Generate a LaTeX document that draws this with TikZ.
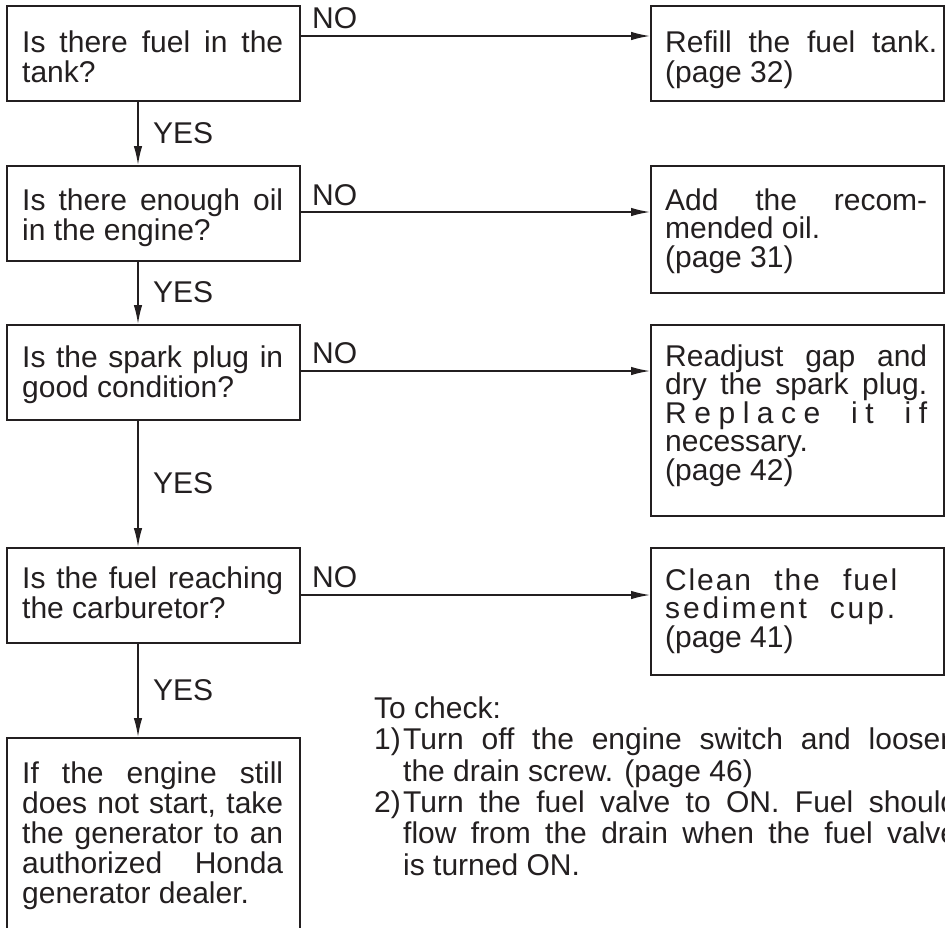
\documentclass[tikz,border=0pt]{standalone}
\usepackage{fontspec}
\setmainfont{Liberation Sans}
\usetikzlibrary{arrows.meta}
\definecolor{ink}{HTML}{231F20}
\newcommand{\bfnt}{\fontsize{30}{30}\selectfont}
\newcommand{\rfnt}{\fontsize{30}{28.5}\selectfont}
\newcommand{\pfnt}{\fontsize{30}{31.3}\selectfont}
\tikzset{
  box/.style={draw=ink, line width=1.9pt, anchor=north west, inner sep=0pt, minimum width=293pt},
  txt/.style={inner sep=0pt, anchor=base west, align=left, text=ink},
  lbl/.style={inner sep=0pt, anchor=base west, text=ink, font=\bfnt},
  arr/.style={draw=ink, line width=1.5pt, -{Latex[length=19pt,width=8.5pt]}},
}
\begin{document}
\begin{tikzpicture}[x=1pt,y=-1pt]
\useasboundingbox (0,0) rectangle (945,927);
\fill[white] (0,0) rectangle (945,927);
% left column boxes
\node[box, minimum height=95pt]  (L1) at (6,5) {};
\node[box, minimum height=95pt]  (L2) at (6,165) {};
\node[box, minimum height=95pt]  (L3) at (6,324) {};
\node[box, minimum height=95pt]  (L4) at (6,547) {};
\node[box, minimum height=210pt] (L5) at (6,737) {};
% right column boxes
\node[box, minimum height=95pt]  (R1) at (650,5) {};
\node[box, minimum height=127pt] (R2) at (650,165) {};
\node[box, minimum height=191pt] (R3) at (650,324) {};
\node[box, minimum height=127pt] (R4) at (650,547) {};
% texts of the left boxes (placed by the baseline of their last line)
\node[txt, font=\bfnt] (L1t) at (22,82) {\makebox[261pt][s]{Is there fuel in the}\\tank?};
\node[txt, font=\bfnt] (L2t) at (22,240) {\makebox[261pt][s]{Is there enough oil}\\in the engine?};
\node[txt, font=\bfnt] (L3t) at (22,397) {\makebox[261pt][s]{Is the spark plug in}\\good condition?};
\node[txt, font=\bfnt] (L4t) at (22,618) {\makebox[261pt][s]{Is the fuel reaching}\\the carburetor?};
\node[txt, font=\bfnt] (L5t) at (22,903) {\makebox[261pt][s]{If the engine still}\\
  \makebox[261pt][s]{does not start, take}\\
  \makebox[261pt][s]{the generator to an}\\
  \makebox[261pt][s]{authorized Honda}\\
  generator dealer.};
% texts of the right boxes
\node[txt, font=\bfnt] (R1t) at (665,82) {\makebox[272pt][s]{Refill the fuel tank.}\\(page 32)};
\node[txt, font=\rfnt] (R2t) at (665,267) {\makebox[262pt][s]{Add the recom-}\\mended oil.\\(page 31)};
\node[txt, font=\rfnt] (R3t) at (665,480) {\makebox[262pt][s]{Readjust gap and}\\
  \makebox[262pt][s]{dry the spark plug.}\\
  \makebox[262pt][s]{R\hfill e\hfill p\hfill l\hfill a\hfill c\hfill e\ \hfill\hfill\hfill i\hfill t\ \hfill\hfill\hfill i\hfill f}\\
  necessary.\\(page 42)};
\node[txt, font=\rfnt] (R4t) at (665,647) {\makebox[232pt][s]{C\hfill l\hfill e\hfill a\hfill n\ \hfill\hfill\hfill\hfill\hfill\hfill\hfill\hfill t\hfill h\hfill e\ \hfill\hfill\hfill\hfill\hfill\hfill\hfill\hfill f\hfill u\hfill e\hfill l}\\
  \makebox[230pt][s]{s\hfill e\hfill d\hfill i\hfill m\hfill e\hfill n\hfill t\ \hfill\hfill\hfill\hfill\hfill c\hfill u\hfill p\hfill .}\\
  (page 41)};
% note
\node[txt, font=\pfnt] (note) at (374,875) {To check:\\
  \makebox[29pt][l]{1)}\makebox[554pt][s]{Turn off the engine switch and loosen}\\
  \hspace*{29pt}the drain screw. (page 46)\\
  \makebox[29pt][l]{2)}\makebox[554pt][s]{Turn the fuel valve to ON. Fuel should}\\
  \hspace*{29pt}\makebox[554pt][s]{flow from the drain when the fuel valve}\\
  \hspace*{29pt}is turned ON.};
% connector helpers
\coordinate (vx) at (138,0);
\coordinate (h1) at (0,36);
\coordinate (h2) at (0,212);
\coordinate (h3) at (0,371);
\coordinate (h4) at (0,595);
% YES connectors
\draw[arr] (L1.south -| vx) -- (L2.north -| vx);
\draw[arr] (L2.south -| vx) -- (L3.north -| vx);
\draw[arr] (L3.south -| vx) -- (L4.north -| vx);
\draw[arr] (L4.south -| vx) -- (L5.north -| vx);
% NO connectors
\draw[arr] (L1.east |- h1) -- (R1.west |- h1);
\draw[arr] (L2.east |- h2) -- (R2.west |- h2);
\draw[arr] (L3.east |- h3) -- (R3.west |- h3);
\draw[arr] (L4.east |- h4) -- (R4.west |- h4);
% labels
\node[lbl] (y1) at (153,143) {YES};
\node[lbl] (y2) at (153,302) {YES};
\node[lbl] (y3) at (153,493) {YES};
\node[lbl] (y4) at (153,700) {YES};
\node[lbl] (n1) at (312,28) {NO};
\node[lbl] (n2) at (312,205) {NO};
\node[lbl] (n3) at (312,363) {NO};
\node[lbl] (n4) at (312,587) {NO};
\end{tikzpicture}
\end{document}
